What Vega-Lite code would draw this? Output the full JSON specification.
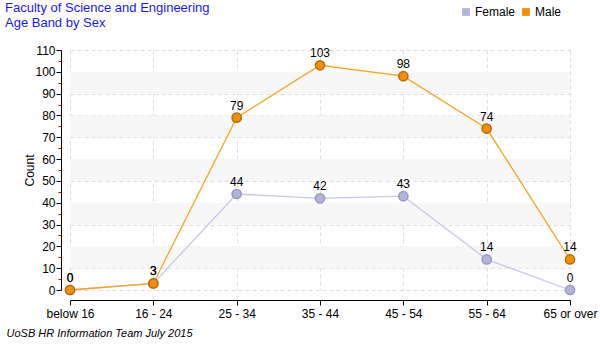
{
  "$schema": "https://vega.github.io/schema/vega-lite/v6.json",
  "autosize": {"type": "none"},
  "width": 500,
  "height": 240,
  "padding": {"left": 70, "top": 50, "right": 30, "bottom": 60},
  "background": "white",
  "config": {
    "font": "Liberation Sans",
    "view": {"stroke": null},
    "axis": {"labelFont": "Liberation Sans", "titleFont": "Liberation Sans", "labelFontSize": 12, "labelColor": "#000000", "titleColor": "#000000"}
  },
  "title": {
    "text": ["Faculty of Science and Engineering", "Age Band by Sex"],
    "anchor": "start",
    "frame": "group",
    "dx": -65,
    "offset": -24,
    "fontSize": 13,
    "fontWeight": "normal",
    "color": "#1a1ae6",
    "lineHeight": 15,
    "font": "Liberation Sans"
  },
  "datasets": {
    "counts": [
      {"age": "below 16", "sex": "Female", "count": 0},
      {"age": "16 - 24", "sex": "Female", "count": 3},
      {"age": "25 - 34", "sex": "Female", "count": 44},
      {"age": "35 - 44", "sex": "Female", "count": 42},
      {"age": "45 - 54", "sex": "Female", "count": 43},
      {"age": "55 - 64", "sex": "Female", "count": 14},
      {"age": "65 or over", "sex": "Female", "count": 0},
      {"age": "below 16", "sex": "Male", "count": 0},
      {"age": "16 - 24", "sex": "Male", "count": 3},
      {"age": "25 - 34", "sex": "Male", "count": 79},
      {"age": "35 - 44", "sex": "Male", "count": 103},
      {"age": "45 - 54", "sex": "Male", "count": 98},
      {"age": "55 - 64", "sex": "Male", "count": 74},
      {"age": "65 or over", "sex": "Male", "count": 14}
    ],
    "bands": [
      {"lo": 10, "hi": 20},
      {"lo": 30, "hi": 40},
      {"lo": 50, "hi": 60},
      {"lo": 70, "hi": 80},
      {"lo": 90, "hi": 100}
    ],
    "minor": [
      {"v": 5}, {"v": 15}, {"v": 25}, {"v": 35}, {"v": 45}, {"v": 55},
      {"v": 65}, {"v": 75}, {"v": 85}, {"v": 95}, {"v": 105}
    ]
  },
  "resolve": {"axis": {"y": "independent"}},
  "layer": [
    {
      "data": {"name": "bands"},
      "mark": {"type": "rect", "color": "#f7f7f7"},
      "encoding": {
        "y": {
          "field": "lo", "type": "quantitative",
          "scale": {"domain": [0, 110], "nice": false},
          "axis": {
            "orient": "left",
            "title": "Count",
            "titleFontSize": 12,
            "titleFontWeight": "normal",
            "titlePadding": -2,
            "values": [0, 10, 20, 30, 40, 50, 60, 70, 80, 90, 100, 110],
            "offset": 9,
            "domainColor": "#000000",
            "tickColor": "#000000",
            "tickSize": 5,
            "labelPadding": 1,
            "grid": true,
            "gridColor": "#dddddd",
            "gridDash": [4, 3]
          }
        },
        "y2": {"field": "hi"}
      }
    },
    {
      "data": {"name": "minor"},
      "mark": {"type": "rule", "opacity": 0},
      "encoding": {
        "y": {
          "field": "v", "type": "quantitative",
          "axis": {
            "orient": "left",
            "title": null,
            "values": [5, 15, 25, 35, 45, 55, 65, 75, 85, 95, 105],
            "offset": 9,
            "domain": false,
            "labels": false,
            "grid": false,
            "tickColor": "#e00000",
            "tickSize": 3
          }
        }
      }
    },
    {
      "data": {"name": "counts"},
      "encoding": {
        "x": {
          "field": "age", "type": "ordinal",
          "sort": ["below 16", "16 - 24", "25 - 34", "35 - 44", "45 - 54", "55 - 64", "65 or over"],
          "scale": {"type": "point", "padding": 0},
          "axis": {
            "title": "UoSB HR Information Team July 2015",
            "titleFontStyle": "italic",
            "titleFontWeight": "normal",
            "titleFontSize": 11,
            "titleAnchor": "start",
            "titleAlign": "left",
            "titleBaseline": "middle",
            "titleX": -64,
            "titleY": 33,
            "labelAngle": 0,
            "offset": 10,
            "domainColor": "#000000",
            "tickColor": "#000000",
            "tickSize": 5,
            "labelPadding": 3,
            "grid": true,
            "gridColor": "#dddddd",
            "gridDash": [4, 3]
          }
        },
        "y": {"field": "count", "type": "quantitative", "axis": null},
        "color": {
          "field": "sex", "type": "nominal",
          "scale": {"domain": ["Female", "Male"], "range": ["#c8c8e6", "#f5a623"]},
          "legend": {
            "orient": "none",
            "legendX": 390,
            "legendY": -44,
            "direction": "horizontal",
            "title": null,
            "symbolType": "square",
            "symbolSize": 60,
            "symbolStrokeWidth": 0,
            "labelFontSize": 12,
            "labelFont": "Liberation Sans",
            "labelColor": "#000000",
            "columnPadding": 4,
            "labelOffset": 3
          }
        }
      },
      "layer": [
        {"mark": {"type": "line", "strokeWidth": 1.3}},
        {
          "mark": {"type": "point", "filled": true, "size": 85, "opacity": 1, "strokeWidth": 1.5},
          "encoding": {
            "fill": {
              "field": "sex", "type": "nominal",
              "scale": {"domain": ["Female", "Male"], "range": ["#b4b4d8", "#f0900a"]},
              "legend": null
            },
            "stroke": {
              "field": "sex", "type": "nominal",
              "scale": {"domain": ["Female", "Male"], "range": ["#9898c4", "#b8680a"]},
              "legend": null
            }
          }
        },
        {
          "mark": {"type": "text", "baseline": "bottom", "dy": -5, "fontSize": 12, "color": "#000000", "font": "Liberation Sans"},
          "encoding": {
            "text": {"field": "count", "type": "quantitative"},
            "color": {"value": "#000000"}
          }
        }
      ]
    }
  ]
}
